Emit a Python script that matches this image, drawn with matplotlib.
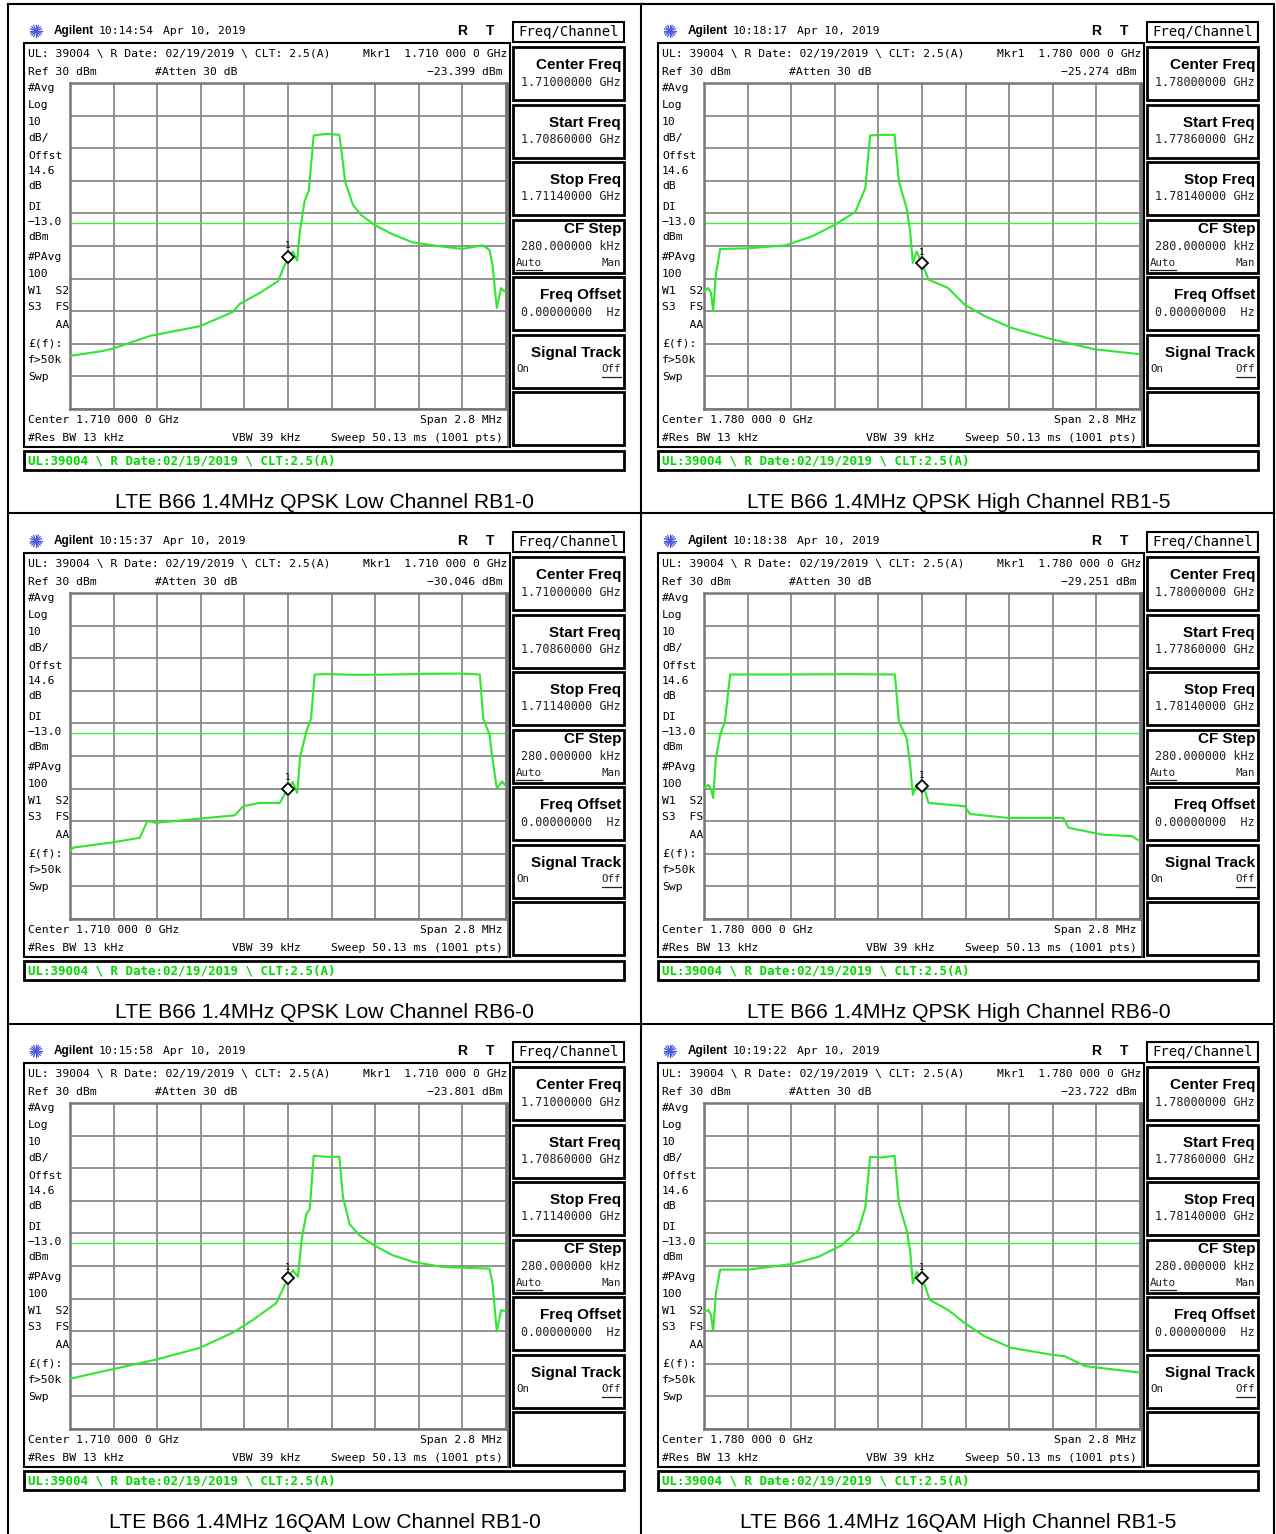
import matplotlib

matplotlib.use("Agg")
import matplotlib.pyplot as plt
import numpy as np
from matplotlib.patches import Rectangle

W, H = 1276, 1534
MONO = "DejaVu Sans Mono"
SANS = "Liberation Sans"
TRACE_GREEN = "#2ee82e"
DL_GREEN = "#3cf03c"
STATUS_GREEN = "#00d800"
GRID_GRAY = "#8a8a8a"

# ---- instrument settings shared by all six captures ----
ref_level_dbm = 30
db_per_div = 10
span_mhz = 2.8
display_line_dbm = -13.0

# ---- per capture ----
captions = [
    "LTE B66 1.4MHz QPSK Low Channel RB1-0",
    "LTE B66 1.4MHz QPSK High Channel RB1-5",
    "LTE B66 1.4MHz QPSK Low Channel RB6-0",
    "LTE B66 1.4MHz QPSK High Channel RB6-0",
    "LTE B66 1.4MHz 16QAM Low Channel RB1-0",
    "LTE B66 1.4MHz 16QAM High Channel RB1-5",
]
clock_times = ["10:14:54", "10:18:17", "10:15:37", "10:18:38", "10:15:58", "10:19:22"]
center_ghz = [1.710, 1.780, 1.710, 1.780, 1.710, 1.780]
marker_dbm = [-23.399, -25.274, -30.046, -29.251, -23.801, -23.722]

qpsk_low_rb1_freq = [-1.400, -1.187, -1.120, -0.888, -0.566, -0.353, -0.311, -0.182, -0.064, 0.000,
                     0.031, 0.059, 0.076, 0.106, 0.134, 0.165, 0.246, 0.330, 0.347, 0.367, 0.417,
                     0.470, 0.554, 0.672, 0.801, 0.994, 1.120, 1.252, 1.294, 1.313, 1.341, 1.369, 1.400]
qpsk_low_rb1_dbm = [-53.7, -52.2, -51.4, -47.6, -44.6, -40.2, -37.8, -34.4, -30.8, -23.4,
                    -21.7, -24.5, -15.6, -6.4, -2.9, 13.9, 14.4, 14.1, 7.8, -0.3, -7.4,
                    -10.5, -13.5, -16.4, -18.9, -20.2, -20.9, -19.8, -21.2, -25.7, -39.0, -32.9, -34.4]

qpsk_high_rb1_freq = [-1.400, -1.372, -1.355, -1.341, -1.324, -1.296, -1.114, -0.879, -0.708, -0.560,
                      -0.428, -0.364, -0.333, -0.260, -0.176, -0.148, -0.098, -0.076, -0.059, -0.034,
                      0.000, 0.042, 0.168, 0.274, 0.403, 0.574, 0.832, 1.112, 1.400]
qpsk_high_rb1_dbm = [-33.9, -32.9, -34.4, -40.0, -28.8, -20.9, -20.7, -19.8, -17.1, -13.5,
                     -9.5, -2.3, 13.9, 14.1, 14.1, -0.3, -8.5, -15.6, -25.2, -21.7,
                     -25.3, -30.3, -32.9, -38.0, -41.5, -45.1, -48.6, -51.7, -53.2]

qpsk_low_rb6_freq = [-1.400, -1.378, -1.142, -0.952, -0.904, -0.846, -0.566, -0.342, -0.288, -0.182,
                     -0.053, 0.000, 0.031, 0.059, 0.078, 0.118, 0.148, 0.171, 0.246, 0.450, 0.672,
                     0.900, 1.100, 1.232, 1.254, 1.294, 1.313, 1.341, 1.375, 1.400]
qpsk_low_rb6_dbm = [-49.1, -48.1, -46.6, -45.1, -40.0, -40.5, -39.2, -38.2, -35.4, -34.4,
                    -34.4, -30.0, -28.0, -31.3, -20.2, -12.5, -8.5, 5.0, 5.1, 4.9, 5.0,
                    5.2, 5.3, 5.0, -8.5, -13.5, -20.7, -30.0, -27.8, -29.3]

qpsk_high_rb6_freq = [-1.400, -1.372, -1.355, -1.341, -1.324, -1.296, -1.266, -1.232, -0.879, -0.451,
                      -0.174, -0.148, -0.098, -0.076, -0.059, -0.034, 0.000, 0.020, 0.042, 0.274,
                      0.308, 0.554, 0.907, 0.941, 1.154, 1.347, 1.400]
qpsk_high_rb6_dbm = [-29.8, -28.8, -30.3, -32.9, -20.7, -13.5, -9.5, 5.0, 5.0, 5.1,
                     5.0, -9.5, -14.6, -22.7, -31.9, -28.8, -29.3, -30.8, -34.4, -35.4,
                     -37.8, -39.0, -39.0, -42.0, -44.1, -44.6, -46.1]

qam_low_rb1_freq = [-1.400, -1.207, -0.846, -0.566, -0.353, -0.224, -0.076, 0.000, 0.031, 0.064,
                    0.087, 0.118, 0.140, 0.165, 0.246, 0.330, 0.353, 0.395, 0.459, 0.554,
                    0.672, 0.801, 0.994, 1.294, 1.313, 1.341, 1.369, 1.400]
qam_low_rb1_dbm = [-54.6, -52.5, -48.7, -45.1, -40.4, -36.5, -31.4, -23.8, -21.3, -23.3,
                   -12.1, -4.0, -2.5, 13.8, 13.5, 13.5, 1.1, -7.1, -10.6, -13.7,
                   -16.7, -18.7, -20.3, -20.8, -25.3, -40.1, -33.5, -34.0]

qam_high_rb1_freq = [-1.400, -1.372, -1.355, -1.341, -1.324, -1.296, -1.114, -0.837, -0.666, -0.518,
                     -0.409, -0.364, -0.333, -0.260, -0.176, -0.148, -0.098, -0.076, -0.059, -0.034,
                     0.000, 0.050, 0.168, 0.274, 0.403, 0.574, 0.832, 0.918, 1.047, 1.400]
qam_high_rb1_dbm = [-34.0, -33.5, -35.0, -40.1, -28.4, -21.1, -21.1, -19.4, -17.2, -13.7,
                    -9.1, -2.0, 13.5, 13.3, 13.8, -1.0, -9.1, -15.2, -25.3, -21.8,
                    -23.7, -30.4, -33.5, -37.5, -41.6, -45.1, -47.2, -47.7, -50.7, -52.7]

traces = [
    (qpsk_low_rb1_freq, qpsk_low_rb1_dbm),
    (qpsk_high_rb1_freq, qpsk_high_rb1_dbm),
    (qpsk_low_rb6_freq, qpsk_low_rb6_dbm),
    (qpsk_high_rb6_freq, qpsk_high_rb6_dbm),
    (qam_low_rb1_freq, qam_low_rb1_dbm),
    (qam_high_rb1_freq, qam_high_rb1_dbm),
]

side_labels = [
    ("#Avg", 88), ("Log", 105), ("10", 122), ("dB/", 138), ("Offst", 156), ("14.6", 171),
    ("dB", 186), ("DI", 207), ("\u221213.0", 222), ("dBm", 237), ("#PAvg", 257), ("100", 274),
    ("W1  S2", 291), ("S3  FS", 307), ("    AA", 325), ("£(f):", 343), ("f>50k", 360), ("Swp", 377),
]


def mono(ax, x, y, s, size=8.2, **kw):
    kw.setdefault("va", "center")
    ax.text(x, y, s, family=MONO, size=size, **kw)


def softkey(bg, ox, oy, top, title, value=None, left=None, right=None, shift=0):
    bg.add_patch(Rectangle((ox + 513, oy + top), 111, 53, fill=False, ec="black", lw=2.0))
    bg.text(ox + 621, oy + top + 18 - shift, title, family=SANS, weight="bold", size=11,
            ha="right", va="center")
    if value:
        mono(bg, ox + 621, oy + top + 35 - shift, value, size=8.5, ha="right", color="#222222")
    if left:
        yy = oy + top + 35 + (8 if shift else 0)
        mono(bg, ox + 516, yy, left, size=7.8, ha="left", color="#222222")
        mono(bg, ox + 621, yy, right, size=7.8, ha="right", color="#222222")
        if left == "Auto":
            bg.plot([ox + 516, ox + 542], [yy + 7, yy + 7], color="#222222", lw=0.9)
        else:
            bg.plot([ox + 602, ox + 621], [yy + 7, yy + 7], color="#222222", lw=0.9)


def draw_panel(fig, bg, i, ox, oy):
    c = center_ghz[i]
    half_span_ghz = span_mhz / 2 / 1000

    # header line
    for a in np.linspace(0, np.pi, 8, endpoint=False):
        bg.plot([ox + 36 - 6 * np.cos(a), ox + 36 + 6 * np.cos(a)],
                [oy + 31 - 6 * np.sin(a), oy + 31 + 6 * np.sin(a)], color="#4a5ad8", lw=0.9)
    bg.text(ox + 54, oy + 31, "Agilent", family=SANS, weight="bold", size=8.5, va="center")
    mono(bg, ox + 99, oy + 31, clock_times[i])
    mono(bg, ox + 163, oy + 31, "Apr 10, 2019")
    bg.text(ox + 462, oy + 31, "R", family=SANS, weight="bold", size=10, ha="center", va="center")
    bg.text(ox + 490, oy + 31, "T", family=SANS, weight="bold", size=10, ha="center", va="center")

    # screen frame and annotation text
    bg.add_patch(Rectangle((ox + 24, oy + 43), 486, 404, fill=False, ec="black", lw=1.5))
    bg.plot([ox + 508, ox + 508], [oy + 83, oy + 447], color="#555555", lw=1.2)
    mono(bg, ox + 28, oy + 54, r"UL: 39004 \ R Date: 02/19/2019 \ CLT: 2.5(A)")
    mono(bg, ox + 507, oy + 54, f"Mkr1  {c:.3f} 000 0 GHz", ha="right")
    mono(bg, ox + 28, oy + 72, f"Ref {ref_level_dbm} dBm")
    mono(bg, ox + 155, oy + 72, "#Atten 30 dB")
    mono(bg, ox + 503, oy + 72, f"\u2212{abs(marker_dbm[i]):.3f} dBm", ha="right")
    for s, y in side_labels:
        mono(bg, ox + 28, oy + y, s)
    mono(bg, ox + 28, oy + 420, f"Center {c:.3f} 000 0 GHz")
    mono(bg, ox + 503, oy + 420, f"Span {span_mhz} MHz", ha="right")
    mono(bg, ox + 28, oy + 438, "#Res BW 13 kHz")
    mono(bg, ox + 232, oy + 438, "VBW 39 kHz")
    mono(bg, ox + 503, oy + 438, "Sweep 50.13 ms (1001 pts)", ha="right")

    # soft keys
    bg.add_patch(Rectangle((ox + 513, oy + 22), 111, 20, fill=False, ec="black", lw=1.5))
    mono(bg, ox + 568.5, oy + 32, "Freq/Channel", size=10, ha="center")
    softkey(bg, ox, oy, 47, "Center Freq", f"{c:.8f} GHz")
    softkey(bg, ox, oy, 104.5, "Start Freq", f"{c - half_span_ghz:.8f} GHz")
    softkey(bg, ox, oy, 162, "Stop Freq", f"{c + half_span_ghz:.8f} GHz")
    softkey(bg, ox, oy, 219.5, "CF Step", "280.000000 kHz", "Auto", "Man", shift=8)
    softkey(bg, ox, oy, 277, "Freq Offset", "0.00000000  Hz")
    softkey(bg, ox, oy, 334.5, "Signal Track", None, "On", "Off")
    bg.add_patch(Rectangle((ox + 513, oy + 392), 111, 53, fill=False, ec="black", lw=2.0))

    # status bar and caption
    bg.add_patch(Rectangle((ox + 24, oy + 451), 600, 19, fill=False, ec="black", lw=2.0))
    bg.text(ox + 28, oy + 461, r"UL:39004 \ R Date:02/19/2019 \ CLT:2.5(A)", family=MONO,
            weight="bold", size=9, color=STATUS_GREEN, va="center")
    bg.text(ox + 324.5, oy + 502, captions[i], family=SANS, size=15.2, ha="center", va="center")

    # graticule with the trace
    ax = fig.add_axes([(ox + 70) / W, 1 - (oy + 409) / H, 436 / W, 326 / H])
    ax.set_xlim(-span_mhz / 2, span_mhz / 2)
    ax.set_ylim(ref_level_dbm - 10 * db_per_div, ref_level_dbm)
    ax.set_xticks(np.linspace(-span_mhz / 2, span_mhz / 2, 11))
    ax.set_yticks(np.arange(ref_level_dbm - 10 * db_per_div, ref_level_dbm + 1, db_per_div))
    ax.tick_params(length=0, labelbottom=False, labelleft=False)
    ax.grid(True, color=GRID_GRAY, lw=1.3)
    for sp in ax.spines.values():
        sp.set_color("#777777")
        sp.set_linewidth(1.8)
    ax.axhline(display_line_dbm, color=DL_GREEN, lw=1.0, zorder=2)
    freq, level = traces[i]
    ax.plot(freq, level, color=TRACE_GREEN, lw=1.5, zorder=3)
    ax.plot([0], [marker_dbm[i]], marker="D", ms=6, mfc="white", mec="black", mew=1.3, zorder=4)
    ax.annotate("1", (0, marker_dbm[i]), xytext=(0, 8), textcoords="offset points",
                ha="center", va="center", family=MONO, size=6.5, zorder=5)


def main():
    fig = plt.figure(figsize=(W / 100, H / 100), dpi=100)
    bg = fig.add_axes([0, 0, 1, 1])
    bg.set_xlim(0, W)
    bg.set_ylim(H, 0)
    bg.axis("off")

    # table borders around the six captures
    bg.plot([8, 1274], [4, 4], color="black", lw=1.5)
    bg.plot([8, 8], [4, H], color="black", lw=1.5)
    bg.plot([1274, 1274], [4, H], color="black", lw=1.5)
    bg.plot([641, 641], [4, H], color="black", lw=1.5)
    bg.plot([8, 1274], [513, 513], color="black", lw=1.5)
    bg.plot([8, 1274], [1024, 1024], color="black", lw=1.5)

    for i in range(6):
        row, col = divmod(i, 2)
        draw_panel(fig, bg, i, 634 * col, 510 * row)

    fig.savefig("out.png", dpi=100)
    plt.close(fig)


if __name__ == "__main__":
    main()
